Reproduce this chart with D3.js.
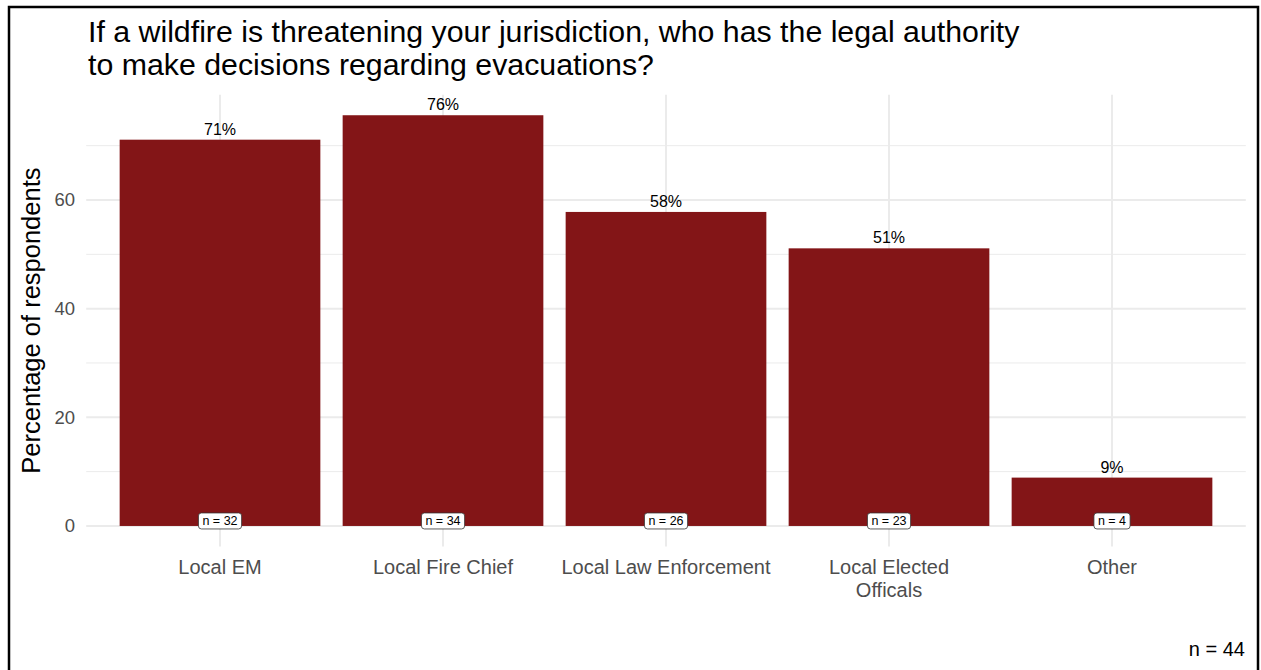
<!DOCTYPE html>
<html><head><meta charset="utf-8">
<script src="https://cdn.jsdelivr.net/npm/d3@7"></script>
<style>body{margin:0;background:#fff;}svg{display:block;font-family:"Liberation Sans",Arial,sans-serif;}</style>
</head><body><svg id="c" width="1261" height="670"></svg>
<script>
const categories = ["Local EM", "Local Fire Chief", "Local Law Enforcement", "Local Elected\nOfficals", "Other"];
const percentValues = [71.1, 75.6, 57.8, 51.1, 8.9];
const percentLabels = ["71%", "76%", "58%", "51%", "9%"];
const counts = [32, 34, 26, 23, 4];
const yTicks = [0, 20, 40, 60];
const yMinor = [10, 30, 50, 70];
const titleLines = ["If a wildfire is threatening your jurisdiction, who has the legal authority", "to make decisions regarding evacuations?"];
const yTitle = "Percentage of respondents";
const caption = "n = 44";

(function(){
const svg = d3.select("#c");
svg.append("path").attr("d","M9,672 V7 H1258 V672").attr("fill","none").attr("stroke","#000").attr("stroke-width",2.5);

const pL = 86.2, pR = 1245.8, pT = 94.7, pB = 546.5;
const maxV = d3.max(percentValues);
const ex = maxV*0.05;
const y = d3.scaleLinear().domain([-ex, maxV+ex]).range([pB, pT]);
const x = d3.scaleBand().domain(categories).range([pL, pR]).paddingInner(0.1).paddingOuter(0.15);
const g = svg.append("g");
g.selectAll(".ymin").data(yMinor).enter().append("line")
 .attr("x1",pL).attr("x2",pR).attr("y1",d=>y(d)).attr("y2",d=>y(d))
 .attr("stroke","#ebebeb").attr("stroke-width",1);
g.selectAll(".ymaj").data(yTicks).enter().append("line")
 .attr("x1",pL).attr("x2",pR).attr("y1",d=>y(d)).attr("y2",d=>y(d))
 .attr("stroke","#ebebeb").attr("stroke-width",2);
g.selectAll(".xmaj").data(categories).enter().append("line")
 .attr("x1",d=>x(d)+x.bandwidth()/2).attr("x2",d=>x(d)+x.bandwidth()/2).attr("y1",pT).attr("y2",pB)
 .attr("stroke","#ebebeb").attr("stroke-width",2);
g.selectAll(".bar").data(categories).enter().append("rect")
 .attr("x",d=>x(d)).attr("width",x.bandwidth())
 .attr("y",(d,i)=>y(percentValues[i])).attr("height",(d,i)=>y(0)-y(percentValues[i]))
 .attr("fill","#831517");
g.selectAll(".yl").data(yTicks).enter().append("text")
 .attr("x",75).attr("y",d=>y(d)).attr("dy","0.35em").attr("text-anchor","end")
 .attr("font-size",18.5).attr("fill","#4d4d4d").text(d=>d);
categories.forEach((c,i)=>{
  const cx = x(c)+x.bandwidth()/2;
  const t = g.append("text").attr("x",cx).attr("y",574).attr("text-anchor","middle")
   .attr("font-size",20).attr("fill","#4d4d4d");
  c.split("\n").forEach((ln,j)=>t.append("tspan").attr("x",cx).attr("dy", j?22.5:0).text(ln));
});
g.selectAll(".vl").data(categories).enter().append("text")
 .attr("x",d=>x(d)+x.bandwidth()/2).attr("y",(d,i)=>y(percentValues[i])-5)
 .attr("text-anchor","middle").attr("font-size",16).attr("fill","#000").text((d,i)=>percentLabels[i]);
categories.forEach((c,i)=>{
  const cx = x(c)+x.bandwidth()/2, cy = y(0)-5;
  const t = g.append("text").attr("x",cx).attr("y",cy).attr("dy","0.35em").attr("text-anchor","middle")
   .attr("font-size",12.5).attr("fill","#000").text("n = "+counts[i]);
  const bb = t.node().getBBox();
  g.insert("rect", () => t.node()).attr("x",bb.x-4).attr("y",cy-8).attr("width",bb.width+8).attr("height",16)
   .attr("rx",3).attr("fill","#fff").attr("stroke","#333").attr("stroke-width",0.8);
});
svg.append("text").attr("transform","translate(40,"+((pT+pB)/2)+") rotate(-90)")
 .attr("text-anchor","middle").attr("font-size",25.5).attr("fill","#000").text(yTitle);
titleLines.forEach((ln,i)=>svg.append("text").attr("x",88).attr("y",42+i*33).attr("font-size",30.3).attr("fill","#000").text(ln));
svg.append("text").attr("x",1245).attr("y",656).attr("text-anchor","end").attr("font-size",20).attr("fill","#000").text(caption);
})();
</script></body></html>
